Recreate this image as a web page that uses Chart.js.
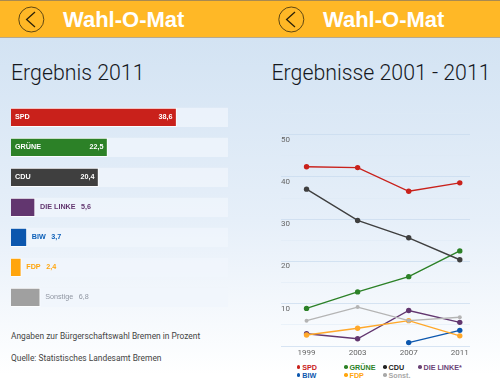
<!DOCTYPE html>
<html lang="de">
<head>
<meta charset="utf-8">
<title>Wahl-O-Mat</title>
<script src="https://cdn.jsdelivr.net/npm/chart.js@4"></script>
<style>
  html, body { margin: 0; padding: 0; }
  body {
    position: relative; width: 500px; height: 387px; overflow: hidden;
    background: linear-gradient(#d3e3f3 38px, #e6eff9 220px, #ffffff 375px);
    font-family: Roboto, sans-serif; color: #222;
  }
  .topbar {
    position: absolute; left: 0; top: 0; width: 500px; height: 36px;
    background: #ffb826; border-top: 1px solid #a98a50; border-bottom: 1px solid #b5a98f;
  }
  .brand {
    position: absolute; top: 6.5px; font: bold 22px "Liberation Sans", Arial, sans-serif; color: #fff;
  }
  .back { position: absolute; top: 5.5px; }
  h2 {
    position: absolute; margin: 0; top: 60px; font: 300 21.3px Roboto, sans-serif; color: #15181d; white-space: nowrap;
  }
  .note { position: absolute; left: 11px; font: 400 8.4px Roboto, sans-serif; color: #444; white-space: nowrap; }
  canvas { position: absolute; }
  #legend span {
    position: absolute; font: bold 7.2px "Liberation Sans", Arial, sans-serif; white-space: nowrap;
  }
  #legend i {
    position: absolute; left: -5.3px; top: 2.2px; width: 3.6px; height: 3.6px; border-radius: 50%; display: block;
  }
</style>
</head>
<body>
<div class="topbar"></div>
<svg class="back" style="left:18px" width="27" height="27" viewBox="0 0 27 27">
  <circle cx="13.3" cy="13.5" r="12.5" fill="none" stroke="#4d3a10" stroke-width="0.9"/>
  <path d="M17 6 L8.6 13.5 L17 21" fill="none" stroke="#2c2208" stroke-width="1.3"/>
</svg>
<div class="brand" style="left:63px">Wahl-O-Mat</div>
<svg class="back" style="left:278px" width="27" height="27" viewBox="0 0 27 27">
  <circle cx="13.3" cy="13.5" r="12.5" fill="none" stroke="#4d3a10" stroke-width="0.9"/>
  <path d="M17 6 L8.6 13.5 L17 21" fill="none" stroke="#2c2208" stroke-width="1.3"/>
</svg>
<div class="brand" style="left:323px">Wahl-O-Mat</div>

<h2 style="left:11px">Ergebnis 2011</h2>
<h2 style="left:271.5px">Ergebnisse 2001 - 2011</h2>

<canvas id="chart-result" style="left:0;top:100px" width="250" height="220"></canvas>
<div class="note" style="top:330.5px">Angaben zur Bürgerschaftswahl Bremen in Prozent</div>
<div class="note" style="top:352.5px">Quelle: Statistisches Landesamt Bremen</div>

<canvas id="chart-history" style="left:250px;top:100px" width="250" height="262"></canvas>
<div id="legend"></div>

<script>
// Ergebnis 2011
const resultLabels = ['SPD', 'GRÜNE', 'CDU', 'DIE LINKE', 'BIW', 'FDP', 'Sonstige'];
const resultValues = [38.6, 22.5, 20.4, 5.6, 3.7, 2.4, 6.8];
const resultColors = ['#c9211b', '#2c8127', '#3f3f3f', '#62366f', '#0c57ae', '#ffa50d', '#a0a0a0'];
const resultTextColors = ['#fff', '#fff', '#fff', '#62366f', '#0c5fb8', '#ffa50d', '#8f95a0'];
const resultTrack = 50.6;

// Ergebnisse 2001 - 2011
const years = [1999, 2003, 2007, 2011];
const spd = [42.4, 42.2, 36.6, 38.6];
const gruene = [8.9, 12.8, 16.4, 22.5];
const cdu = [37.1, 29.7, 25.6, 20.4];
const linke = [2.9, 1.7, 8.4, 5.6];
const biw = [null, null, 0.8, 3.7];
const fdp = [2.6, 4.2, 6.0, 2.4];
const sonst = [6.0, 9.2, 6.0, 6.8];
const yTicks = [10, 20, 30, 40, 50];

const legendItems = [
  ['SPD', '#c9211b', 298.7, 364], ['GRÜNE', '#2c8127', 346, 364], ['CDU', '#222222', 385, 364], ['DIE LINKE*', '#6a4377', 420, 364],
  ['BIW', '#0c57ae', 298.7, 372], ['FDP', '#ffa50d', 346, 372], ['Sonst.', '#a8a8a8', 385, 372],
];

const barLabelPlugin = {
  id: 'barLabels',
  afterDatasetsDraw(chart) {
    const { ctx } = chart;
    const bars = chart.getDatasetMeta(1).data;
    ctx.save();
    ctx.textBaseline = 'middle';
    bars.forEach((bar, i) => {
      const val = resultValues[i].toFixed(1).replace('.', ',');
      ctx.fillStyle = resultTextColors[i];
      ctx.font = (i === 6 ? '' : 'bold ') + '7.2px "Liberation Sans", Arial, sans-serif';
      if (resultValues[i] > 10) {
        ctx.textAlign = 'left';
        ctx.fillText(resultLabels[i], chart.scales.x.getPixelForValue(0) + 4, bar.y);
        ctx.textAlign = 'right';
        ctx.fillText(val, bar.x - 4, bar.y);
      } else {
        ctx.textAlign = 'left';
        ctx.fillText(resultLabels[i], bar.x + 5, bar.y);
        ctx.fillText(val, bar.x + 5 + ctx.measureText(resultLabels[i]).width + 5.5, bar.y);
      }
    });
    ctx.restore();
  },
};

new Chart(document.getElementById('chart-result'), {
  type: 'bar',
  data: {
    labels: resultLabels,
    datasets: [
      {
        data: resultLabels.map(() => resultTrack),
        backgroundColor: 'rgba(240,245,252,0.75)',
        borderWidth: 0,
        grouped: false,
        barThickness: 18.5,
        order: 2,
      },
      {
        data: resultValues,
        backgroundColor: resultColors,
        borderColor: 'rgba(255,255,255,0.75)',
        borderWidth: 1,
        grouped: false,
        barThickness: 18.5,
        order: 1,
      },
    ],
  },
  options: {
    indexAxis: 'y',
    responsive: false,
    animation: false,
    layout: { padding: { left: 11, right: 22, top: 2.3, bottom: 7.7 } },
    plugins: { legend: { display: false }, tooltip: { enabled: false } },
    scales: {
      x: { display: false, min: 0, max: resultTrack },
      y: { display: false },
    },
  },
  plugins: [barLabelPlugin],
});

function lineSet(data, color, radius) {
  return {
    data: years.map((y, i) => ({ x: y, y: data[i] })),
    borderColor: color,
    backgroundColor: color,
    borderWidth: 1.4,
    pointRadius: radius,
    pointBorderWidth: 0,
    tension: 0,
  };
}

new Chart(document.getElementById('chart-history'), {
  type: 'line',
  data: {
    datasets: [
      lineSet(sonst, '#b4b4b4', 2),
      lineSet(spd, '#c9211b', 2.7),
      lineSet(cdu, '#3f3f3f', 2.7),
      lineSet(gruene, '#2c8127', 2.7),
      lineSet(fdp, '#ffa82a', 2.7),
      lineSet(linke, '#62366f', 2.7),
      lineSet(biw, '#0c57ae', 2.7),
    ],
  },
  options: {
    responsive: false,
    animation: false,
    layout: { padding: { left: 31, right: 30, top: 13.5, bottom: 0 } },
    plugins: { legend: { display: false }, tooltip: { enabled: false } },
    scales: {
      x: {
        type: 'linear',
        min: 1997,
        max: 2011.8,
        afterBuildTicks(axis) { axis.ticks = years.map(v => ({ value: v })); },
        afterFit(axis) { axis.height = 16; },
        grid: { display: false, drawTicks: false },
        border: { display: false },
        ticks: { color: '#666', font: { size: 8, family: 'Roboto' }, padding: 2, maxRotation: 0, autoSkip: false, callback: v => String(v) },
      },
      y: {
        min: 0,
        max: 55,
        afterBuildTicks(axis) {
          const out = [];
          for (let v = 0; v <= 55; v += 5) out.push({ value: v });
          axis.ticks = out;
        },
        grid: {
          color: ctx => (ctx.tick.value % 10 === 0 ? 'rgba(200,218,238,0.7)' : 'rgba(222,233,245,0.5)'),
          drawTicks: false,
        },
        border: { display: false },
        ticks: { display: false },
      },
    },
  },
  plugins: [{
    id: 'yLabels',
    afterDraw(chart) {
      const { ctx, scales } = chart;
      ctx.save();
      ctx.font = '8px Roboto';
      ctx.fillStyle = '#666';
      ctx.textAlign = 'left';
      ctx.textBaseline = 'middle';
      yTicks.forEach(v => ctx.fillText(String(v), 31, scales.y.getPixelForValue(v) + 5));
      ctx.restore();
    },
  }],
});

document.getElementById('legend').innerHTML = legendItems.map(([name, color, x, y]) =>
  `<span style="left:${x + 3.5}px;top:${y - 1}px;color:${color}"><i style="background:${color}"></i>${name}</span>`
).join('');
</script>
</body>
</html>
